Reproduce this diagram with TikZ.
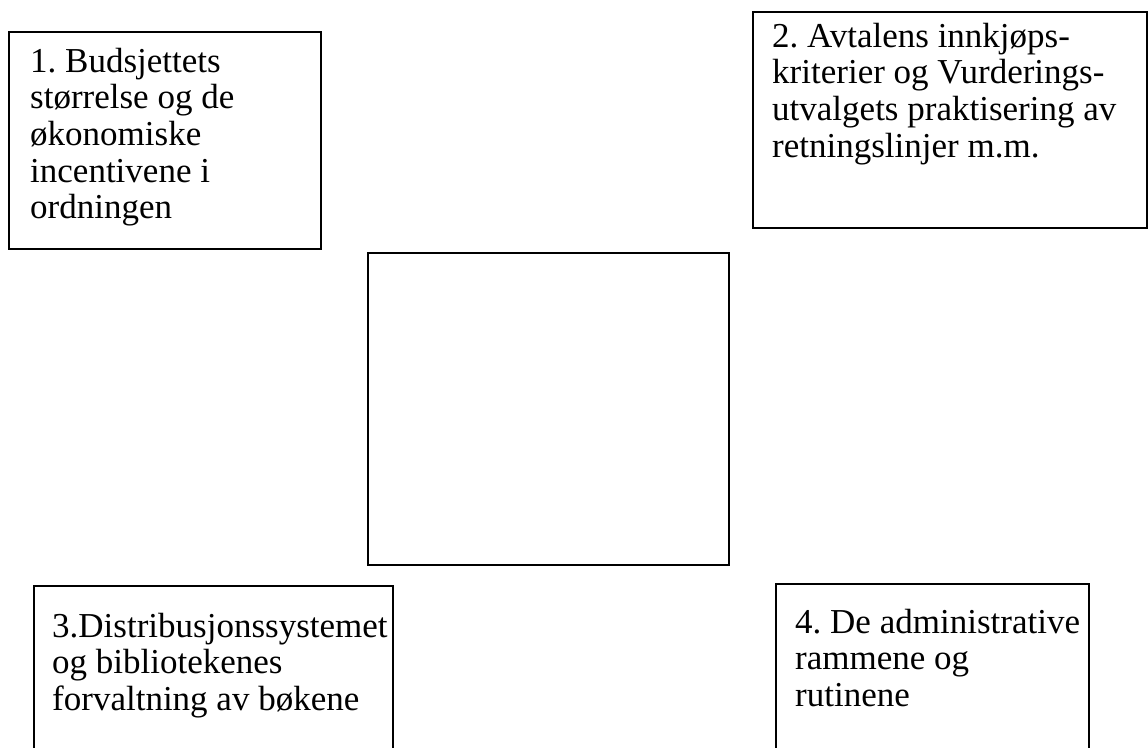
\documentclass[tikz,border=0pt]{standalone}
\usepackage{fontspec}
\setmainfont{Liberation Serif}
\usetikzlibrary{calc}
\frenchspacing

\newcommand{\boxtext}[1]{\begin{tabular}[t]{@{}l@{}}#1\end{tabular}}

\begin{document}
\begin{tikzpicture}[
    x=1pt, y=-1pt,
    frame/.style={draw, line width=2pt, anchor=north west, inner sep=0pt},
    txt/.style={anchor=base west, inner sep=0pt, font=\fontsize{35}{36.7}\selectfont}
  ]
  \useasboundingbox (0,0) rectangle (1148,747);
  \clip (0,0) rectangle (1148,747);
  % frames
  \node[frame, minimum width=312pt, minimum height=217pt] (b1) at (8,31) {};
  \node[frame, minimum width=394pt, minimum height=216pt] (b2) at (752,10.5) {};
  \node[frame, minimum width=361pt, minimum height=312pt] (mid) at (367,252) {};
  \node[frame, minimum width=359pt, minimum height=220pt] (b3) at (32.5,585) {};
  \node[frame, minimum width=313pt, minimum height=220pt] (b4) at (775,583) {};
  % texts
  \node[txt] (t1) at ($(b1.north west)+(22,41)$) {\boxtext{1. Budsjettets\\størrelse og de\\økonomiske\\incentivene i\\ordningen}};
  \node[txt] (t2) at ($(b2.north west)+(20,36.5)$) {\boxtext{2. Avtalens innkjøps-\\kriterier og Vurderings-\\utvalgets praktisering av\\retningslinjer m.m.}};
  \node[txt] (t3) at ($(b3.north west)+(19.5,52)$) {\boxtext{3.Distribusjonssystemet\\og bibliotekenes\\forvaltning av bøkene}};
  \node[txt] (t4) at ($(b4.north west)+(20,50)$) {\boxtext{4. De administrative\\rammene og\\rutinene}};
\end{tikzpicture}
\end{document}
